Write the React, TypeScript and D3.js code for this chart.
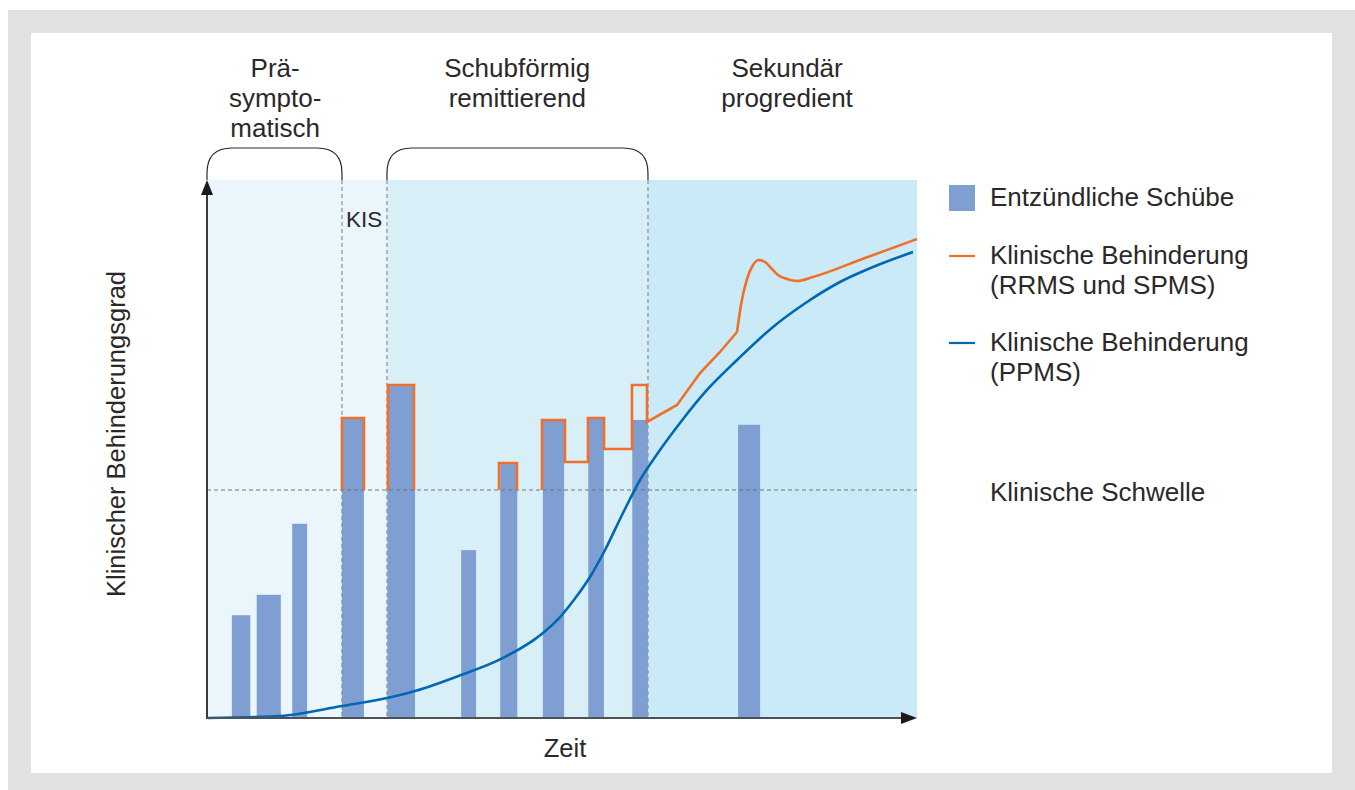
import React from "react";
import * as d3 from "d3";

// ---------- data (time 0..100, disability grade 0..100) ----------
const phaseBounds = [0, 19.01, 25.35, 62.11, 100];
const phaseFills = ["#eaf6fc", "#eaf6fc", "#d9eff8", "#c9eaf6"];
const phaseLabels = [
  { lines: ["Prä-", "sympto-", "matisch"], t: 9.6 },
  { lines: ["Schubförmig", "remittierend"], t: 43.7 },
  { lines: ["Sekundär", "progredient"], t: 81.7 },
];
const bracketSpans: [number, number][] = [
  [0, 19.01],
  [25.35, 62.11],
];
const threshold = 42.38;

// relapse bars: [start, end, height]
const barStart = [3.5, 7.0, 12.0, 19.0, 25.4, 35.8, 41.3, 47.3, 53.7, 59.9, 74.8];
const barEnd = [6.1, 10.4, 14.1, 22.1, 29.3, 37.9, 43.7, 50.3, 55.9, 62.1, 77.9];
const barHeight = [19.1, 22.9, 36.1, 55.8, 61.7, 31.2, 47.2, 55.4, 55.8, 55.4, 54.5];

// orange: clinical disability (RRMS & SPMS)
const orangeSteps: [number, number][][] = [
  [[19.01, 42.38], [19.01, 55.76], [22.11, 55.76], [22.11, 42.38]],
  [[25.49, 42.38], [25.49, 61.9], [29.15, 61.9], [29.15, 42.38]],
  [[41.13, 42.38], [41.13, 47.4], [43.66, 47.4], [43.66, 42.38]],
  [
    [47.18, 42.38], [47.18, 55.39], [50.42, 55.39], [50.42, 47.58], [53.66, 47.58],
    [53.66, 55.76], [55.92, 55.76], [55.92, 50.0], [59.86, 50.0], [59.86, 61.9],
    [61.97, 61.9], [61.97, 55.02], [66.2, 58.18], [69.44, 64.13], [72.25, 68.03],
    [74.65, 71.75],
  ],
];
const orangeSmooth: [number, number][] = [
  [74.65, 71.75], [75.21, 76.77], [76.06, 81.6], [76.9, 84.2], [77.75, 85.13],
  [78.59, 84.76], [79.58, 83.46], [80.42, 82.34], [81.69, 81.6], [83.1, 81.23],
  [85.35, 81.97], [92.68, 85.5], [100, 89.03],
];

// blue: clinical disability (PPMS)
const bluePts: [number, number][] = [
  [0.14, 0], [10.28, 0.37], [19.01, 2.23], [25.35, 3.72], [29.3, 5.02],
  [35.77, 7.99], [41.27, 10.9], [47.32, 15.8], [49.72, 18.77], [51.83, 22.2],
  [53.94, 26.21], [56.06, 31.23], [58.59, 38.1], [60.99, 44.24], [63.8, 49.81],
  [66.62, 54.83], [70.42, 60.97], [74.65, 66.54], [79.72, 72.68], [84.51, 77.32],
  [89.15, 81.04], [93.8, 83.83], [99.44, 86.62],
];

const legendItems = [
  { kind: "bar", lines: ["Entzündliche Schübe"] },
  { kind: "orange", lines: ["Klinische Behinderung", "(RRMS und SPMS)"] },
  { kind: "blue", lines: ["Klinische Behinderung", "(PPMS)"] },
  { kind: "none", lines: ["Klinische Schwelle"] },
];

// ---------- styles ----------
const W = 1355;
const H = 790;
const FONT = "'Liberation Sans', Arial, Helvetica, sans-serif";
const TXT = "#2b2829";
const BAR = "#7f9ed2";
const ORANGE = "#f0702a";
const BLUE = "#0068b3";

export default function App() {
  const x = d3.scaleLinear().domain([0, 100]).range([207, 917]);
  const y = d3.scaleLinear().domain([0, 100]).range([718, 180]);
  const lin = d3
    .line<[number, number]>()
    .x((d) => x(d[0]))
    .y((d) => y(d[1]));
  const smooth = d3
    .line<[number, number]>()
    .x((d) => x(d[0]))
    .y((d) => y(d[1]))
    .curve(d3.curveMonotoneX);
  const blueLine = d3
    .line<[number, number]>()
    .x((d) => x(d[0]))
    .y((d) => y(d[1]))
    .curve(d3.curveMonotoneX);

  const top = y(100);
  const bottom = y(0);

  const bracket = (a: number, b: number) => {
    const x0 = x(a);
    const x1 = x(b);
    const yt = 148;
    const r = 25;
    return `M${x0},${top} L${x0},${yt + r} Q${x0},${yt} ${x0 + r},${yt} L${x1 - r},${yt} Q${x1},${yt} ${x1},${yt + r} L${x1},${top}`;
  };

  const legendY = [198, 256, 343, 493];

  return (
    <svg
      width={W}
      height={H}
      style={{ position: "absolute", left: 0, top: 0, display: "block" }}
      fontFamily={FONT}
    >
      <rect x={8} y={10} width={W - 8} height={H - 10} fill="#e0e1e3" />
      <rect x={31} y={33} width={1301} height={740} fill="#ffffff" />

      {/* phase backgrounds */}
      {phaseFills.map((f, i) => (
        <rect
          key={i}
          x={x(phaseBounds[i])}
          y={top}
          width={x(phaseBounds[i + 1]) - x(phaseBounds[i])}
          height={bottom - top}
          fill={f}
        />
      ))}

      {/* bars */}
      {barStart.map((s, i) => (
        <rect
          key={i}
          x={x(s)}
          y={y(barHeight[i])}
          width={x(barEnd[i]) - x(s)}
          height={bottom - y(barHeight[i])}
          fill={BAR}
        />
      ))}

      {/* dashed phase separators */}
      {phaseBounds.slice(1, 4).map((b, i) => (
        <line
          key={i}
          x1={x(b)}
          x2={x(b)}
          y1={top}
          y2={bottom}
          stroke="#8b9095"
          strokeWidth={1.2}
          strokeDasharray="4 3"
        />
      ))}

      {/* threshold */}
      <line
        x1={x(0)}
        x2={x(100)}
        y1={y(threshold)}
        y2={y(threshold)}
        stroke="#6f7479"
        strokeWidth={1.2}
        strokeDasharray="4 3"
      />

      {/* blue curve */}
      <path d={blueLine(bluePts) || ""} fill="none" stroke={BLUE} strokeWidth={2.6} />

      {/* orange */}
      {orangeSteps.map((s, i) => (
        <path
          key={i}
          d={lin(s) || ""}
          fill="none"
          stroke={ORANGE}
          strokeWidth={2.6}
          strokeLinejoin="miter"
        />
      ))}
      <path d={smooth(orangeSmooth) || ""} fill="none" stroke={ORANGE} strokeWidth={2.6} />

      {/* axes */}
      <line x1={x(0)} x2={x(0)} y1={bottom + 1} y2={top + 10} stroke="#3a3a3a" strokeWidth={2} />
      <path d={`M${x(0)},${top} L${x(0) - 6},${top + 15} L${x(0) + 6},${top + 15} Z`} fill="#1d1a1b" />
      <line x1={x(0)} x2={x(100) - 10} y1={bottom} y2={bottom} stroke="#4d5257" strokeWidth={2} />
      <path
        d={`M${x(100)},${bottom} L${x(100) - 16},${bottom - 6} L${x(100) - 16},${bottom + 6} Z`}
        fill="#1d1a1b"
      />

      {/* brackets */}
      {bracketSpans.map((s, i) => (
        <path key={i} d={bracket(s[0], s[1])} fill="none" stroke={TXT} strokeWidth={1.2} />
      ))}

      {/* phase labels */}
      {phaseLabels.map((p, i) => (
        <text key={i} x={x(p.t)} y={77} textAnchor="middle" fontSize={26} fill={TXT}>
          {p.lines.map((l, j) => (
            <tspan key={j} x={x(p.t)} dy={j === 0 ? 0 : 30}>
              {l}
            </tspan>
          ))}
        </text>
      ))}

      <text x={x(19.01) + 4} y={227} fontSize={22.5} fill={TXT}>
        KIS
      </text>

      {/* axis titles */}
      <text
        transform={`translate(125,${(top + bottom) / 2 - 15}) rotate(-90)`}
        textAnchor="middle"
        fontSize={25.5}
        fill={TXT}
      >
        Klinischer Behinderungsgrad
      </text>
      <text x={565} y={757} textAnchor="middle" fontSize={25.5} fill={TXT}>
        Zeit
      </text>

      {/* legend */}
      {legendItems.map((it, i) => (
        <g key={i}>
          {it.kind === "bar" && <rect x={949} y={legendY[i] - 13} width={26} height={26} fill={BAR} />}
          {it.kind === "orange" && (
            <line x1={949} x2={975} y1={legendY[i]} y2={legendY[i]} stroke={ORANGE} strokeWidth={2.2} />
          )}
          {it.kind === "blue" && (
            <line x1={949} x2={975} y1={legendY[i]} y2={legendY[i]} stroke={BLUE} strokeWidth={2.2} />
          )}
          <text x={990} y={legendY[i] + 8} fontSize={26} fill={TXT}>
            {it.lines.map((l, j) => (
              <tspan key={j} x={990} dy={j === 0 ? 0 : 30}>
                {l}
              </tspan>
            ))}
          </text>
        </g>
      ))}
    </svg>
  );
}
